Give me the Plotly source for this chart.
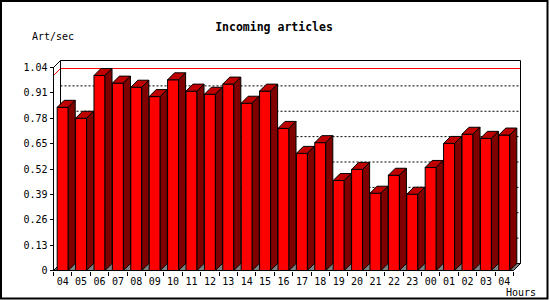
import plotly.graph_objects as go

hours = ["04", "05", "06", "07", "08", "09", "10", "11", "12", "13", "14", "15",
         "16", "17", "18", "19", "20", "21", "22", "23", "00", "01", "02", "03", "04"]
rate = [0.836, 0.780, 0.999, 0.960, 0.939, 0.891, 0.977, 0.919, 0.903, 0.955, 0.857, 0.919,
        0.728, 0.600, 0.655, 0.461, 0.518, 0.396, 0.488, 0.391, 0.528, 0.651, 0.698, 0.677, 0.694]
y_ticks = [0, 0.13, 0.26, 0.39, 0.52, 0.65, 0.78, 0.91, 1.04]
y_tick_labels = ["0", "0.13", "0.26", "0.39", "0.52", "0.65", "0.78", "0.91", "1.04"]

FW, FH = 550, 300
X0PX, Y0PX = 53.5, 270.5      # front origin in pixels (half-pixel for crisp lines)
UX = 18.4                      # px per category
FRONT_H = 203                  # px for 1.04
YMAX = y_ticks[-1]
UY = FRONT_H / YMAX
D = 7                          # 3D depth px
n = len(hours)

left_px, right_px = 51, 523
top_px, bot_px = 58, 273
PW = right_px - left_px
PH = bot_px - top_px

dx = D / UX
dy = D / UY
hw = 0.3

fig = go.Figure()
centers = [i + 0.5 for i in range(n)]
fig.add_trace(go.Bar(x=centers, y=rate, width=2 * hw,
                     marker=dict(color="#ff0000", line=dict(color="black", width=1)),
                     hoverinfo="skip"))

tx, ty, sx, sy = [], [], [], []
for c, v in zip(centers, rate):
    tx += [c - hw, c + hw, c + hw + dx, c - hw + dx, c - hw, None]
    ty += [v, v, v + dy, v + dy, v, None]
    sx += [c + hw, c + hw, c + hw + dx, c + hw + dx, c + hw, None]
    sy += [0, v, v + dy, dy, 0, None]
fig.add_trace(go.Scatter(x=tx, y=ty, mode="lines", fill="toself", fillcolor="#c00000",
                         line=dict(color="black", width=1), hoverinfo="skip"))
fig.add_trace(go.Scatter(x=sx, y=sy, mode="lines", fill="toself", fillcolor="#800000",
                         line=dict(color="black", width=1), hoverinfo="skip"))

xe = n + dx
ye = YMAX + dy
shapes = []
# floor
shapes.append(dict(type="path", xref="x", yref="y", layer="below",
                   path=f"M 0,0 L {n},0 L {xe},{dy} L {dx},{dy} Z",
                   fillcolor="#808080", line=dict(color="black", width=1)))
# grid lines on back wall
for v in y_ticks[1:-1]:
    shapes.append(dict(type="line", xref="x", yref="y", layer="below",
                       x0=dx, x1=xe, y0=v + dy, y1=v + dy,
                       line=dict(color="black", width=1, dash="2px,2px")))
# max line
m = max(rate)
shapes.append(dict(type="line", xref="x", yref="y", layer="below",
                   x0=dx, x1=xe, y0=m + dy, y1=m + dy, line=dict(color="#ff0000", width=1)))
shapes.append(dict(type="line", xref="x", yref="y", layer="below",
                   x0=0, x1=dx, y0=m, y1=m + dy, line=dict(color="#ff0000", width=1)))
# frame
for (x0, y0, x1, y1) in [(0, 0, 0, YMAX), (0, YMAX, dx, ye), (dx, ye, xe, ye),
                         (xe, ye, xe, dy), (dx, dy, dx, ye)]:
    shapes.append(dict(type="line", xref="x", yref="y", layer="below",
                       x0=x0, y0=y0, x1=x1, y1=y1, line=dict(color="black", width=1)))


def px2paper_x(px):
    return (px - left_px) / PW


def px2paper_y(py):
    return (bot_px - py) / PH


shapes.append(dict(type="rect", xref="paper", yref="paper",
                   x0=px2paper_x(1), x1=px2paper_x(547.5),
                   y0=px2paper_y(298.5), y1=px2paper_y(1),
                   line=dict(color="black", width=2)))

font = "DejaVu Sans Mono"
fig.update_layout(
    width=FW, height=FH,
    margin=dict(l=left_px, r=FW - right_px, t=top_px, b=FH - bot_px, pad=0),
    paper_bgcolor="white", plot_bgcolor="white",
    showlegend=False,
    shapes=shapes,
    title=dict(text="<b>Incoming articles</b>", x=274 / FW, y=1 - 27 / FH,
               xref="container", yref="container", xanchor="center", yanchor="middle",
               font=dict(family=font, size=11.5, color="black")),
    xaxis=dict(range=[(left_px - X0PX) / UX, (right_px - X0PX) / UX], anchor="free",
               position=(bot_px - Y0PX) / PH, showgrid=False, zeroline=False, showline=False,
               tickmode="array", tickvals=centers, ticktext=hours,
               ticks="outside", ticklen=1, tickcolor="rgba(0,0,0,0)",
               tickfont=dict(family=font, size=10, color="black"),
               minor=dict(tickmode="array", tickvals=list(range(n + 1)), ticks="outside",
                          ticklen=4, tickcolor="black", tickwidth=1, showgrid=False)),
    yaxis=dict(range=[(Y0PX - bot_px) / UY, (Y0PX - top_px) / UY], anchor="free",
               position=(X0PX - left_px) / PW, showgrid=False, zeroline=False, showline=False,
               tickmode="array", tickvals=y_ticks, ticktext=y_tick_labels,
               ticks="outside", ticklen=4, tickcolor="black", tickwidth=1,
               tickfont=dict(family=font, size=10, color="black")),
    annotations=[
        dict(text="Art/sec", xref="paper", yref="paper", x=px2paper_x(30), y=px2paper_y(37),
             xanchor="left", yanchor="middle", showarrow=False,
             font=dict(family=font, size=10, color="black")),
        dict(text="Hours", xref="paper", yref="paper", x=px2paper_x(504), y=px2paper_y(292),
             xanchor="left", yanchor="middle", showarrow=False,
             font=dict(family=font, size=10, color="black")),
    ],
)
fig.write_html("out.html")
